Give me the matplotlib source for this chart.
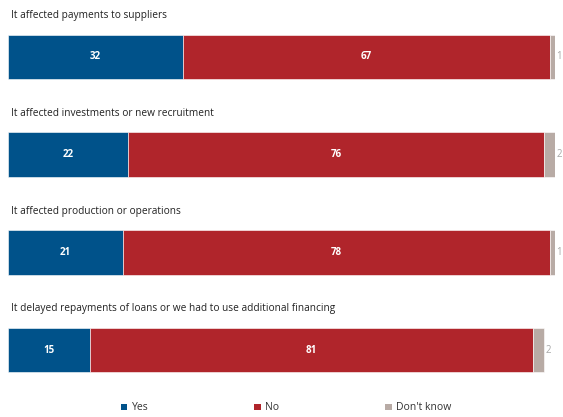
import matplotlib
matplotlib.use("Agg")
import matplotlib.pyplot as plt
from matplotlib.patches import Patch

categories = [
    "It affected payments to suppliers",
    "It affected investments or new recruitment",
    "It affected production or operations",
    "It delayed repayments of loans or we had to use additional financing",
]
yes = [32, 22, 21, 15]
no = [67, 76, 78, 81]
dk = [1, 2, 1, 2]
series_names = ["Yes", "No", "Don't know"]
colors = ["#00528A", "#B0252B", "#B8ABA5"]

W, H = 563, 417
fig = plt.figure(figsize=(W / 100, H / 100), dpi=100)
plt.rcParams["font.family"] = ["Open Sans", "DejaVu Sans"]

left_px, width_px = 8, 547
ax = fig.add_axes([left_px / W, 0, width_px / W, 1])
step = 97.7
top = -57 / step
bottom = 3 + (H - 350) / step
ax.set_ylim(bottom, top)
ax.set_xlim(0, 100)
ax.axis("off")

pos = list(range(len(categories)))
h = 0.46
ax.barh(pos, yes, height=h, color=colors[0], edgecolor="white", linewidth=0.4)
ax.barh(pos, no, left=yes, height=h, color=colors[1], edgecolor="white", linewidth=0.4)
lefts = [a + b for a, b in zip(yes, no)]
ax.barh(pos, dk, left=lefts, height=h, color=colors[2], edgecolor="white", linewidth=0.4)

for i in pos:
    ax.text(0.6, i - 0.42, categories[i], ha="left", va="center", fontsize=7.3, color="#222222")
    ax.text(yes[i] / 2, i, str(yes[i]), ha="center", va="center", color="white", fontsize=7, fontweight="bold")
    ax.text(yes[i] + no[i] / 2, i, str(no[i]), ha="center", va="center", color="white", fontsize=7, fontweight="bold")
    ax.text(lefts[i] + dk[i] + 0.3, i, str(dk[i]), ha="left", va="center", color="#A8A8A8", fontsize=7, clip_on=False)

handles = [Patch(facecolor=c, edgecolor="none") for c in colors]
fig.legend(handles, series_names, loc="center", bbox_to_anchor=(0.508, 1 - 408 / H), ncol=3,
           frameon=False, handlelength=0.6, handleheight=0.6, handletextpad=0.4,
           columnspacing=10.2, fontsize=7.5, labelcolor="#333333")

fig.savefig("out.png", dpi=100)
